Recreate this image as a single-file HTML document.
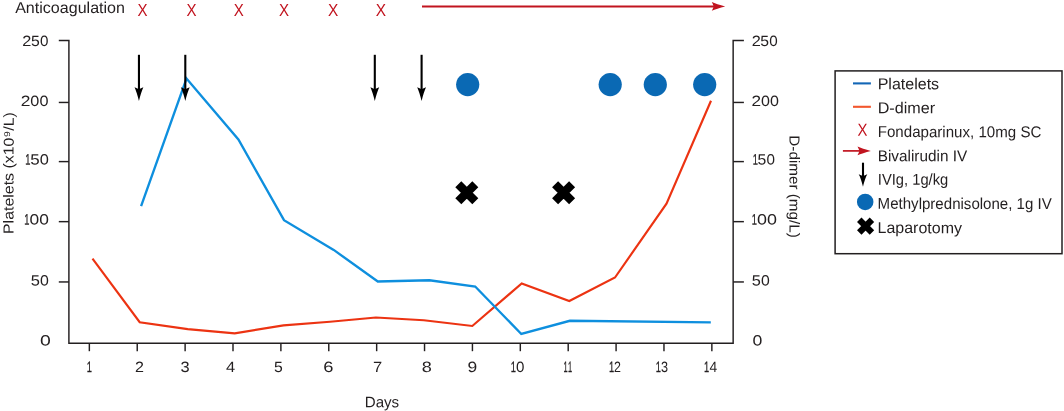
<!DOCTYPE html>
<html><head><meta charset="utf-8"><title>Chart</title>
<style>html,body{margin:0;padding:0;background:#fff}svg{display:block}</style></head>
<body><svg width="1064" height="411" viewBox="0 0 1064 411">
<rect x="0" y="0" width="1064" height="411" fill="#fff"/>
<g fill="none" stroke="#231f20" stroke-width="1.45" stroke-linecap="butt" stroke-linejoin="miter">
<path d="M58.8,40.45 H68.9 V343.2 H733.15 V40.45 H743.9"/>
<path d="M58.8,102.45 H68.9"/>
<path d="M733.15,102.45 H743.9"/>
<path d="M58.8,161.6 H68.9"/>
<path d="M733.15,161.6 H743.9"/>
<path d="M58.8,221.65 H68.9"/>
<path d="M733.15,221.65 H743.9"/>
<path d="M58.8,281.95 H68.9"/>
<path d="M733.15,281.95 H743.9"/>
<path d="M89.35,343.2 V351.2"/>
<path d="M137.23,343.2 V351.2"/>
<path d="M185.12,343.2 V351.2"/>
<path d="M233.00,343.2 V351.2"/>
<path d="M280.89,343.2 V351.2"/>
<path d="M328.77,343.2 V351.2"/>
<path d="M376.66,343.2 V351.2"/>
<path d="M424.54,343.2 V351.2"/>
<path d="M472.43,343.2 V351.2"/>
<path d="M520.31,343.2 V351.2"/>
<path d="M568.20,343.2 V351.2"/>
<path d="M616.09,343.2 V351.2"/>
<path d="M663.97,343.2 V351.2"/>
<path d="M711.86,343.2 V351.2"/>
</g>
<polyline points="92.5,258.7 139.7,322.2 187.7,329.1 234.7,333.3 283.5,325.4 330.0,321.8 375.9,317.5 423.8,320.3 472.3,326.0 521.7,283.4 569.3,301.0 615.0,277.5 666.5,203.7 711.0,100.8" fill="none" stroke="#ec3312" stroke-width="2.15" stroke-linejoin="miter"/>
<polyline points="141.1,206.2 186.5,78.5 238.4,139.4 284.0,220.2 333.7,249.9 377.8,281.5 429.4,280.3 475.2,286.5 521.3,334.0 569.9,320.8 710.8,322.3" fill="none" stroke="#0e8fde" stroke-width="2.35" stroke-linejoin="miter"/>
<path d="M138.95,54.8 V90.3" stroke="#000" stroke-width="2.1" fill="none"/><path d="M138.95,101.0 C137.64999999999998,95.5 135.95,90.5 134.54999999999998,87.3 Q136.95,88.5 138.95,89.2 Q140.95,88.5 143.35,87.3 C141.95,90.5 140.25,95.5 138.95,101.0 Z" fill="#000"/>
<path d="M185.3,54.8 V90.3" stroke="#000" stroke-width="2.1" fill="none"/><path d="M185.3,101.0 C184.0,95.5 182.3,90.5 180.9,87.3 Q183.3,88.5 185.3,89.2 Q187.3,88.5 189.70000000000002,87.3 C188.3,90.5 186.60000000000002,95.5 185.3,101.0 Z" fill="#000"/>
<path d="M374.8,54.8 V90.3" stroke="#000" stroke-width="2.1" fill="none"/><path d="M374.8,101.0 C373.5,95.5 371.8,90.5 370.40000000000003,87.3 Q372.8,88.5 374.8,89.2 Q376.8,88.5 379.2,87.3 C377.8,90.5 376.1,95.5 374.8,101.0 Z" fill="#000"/>
<path d="M421.6,54.8 V90.3" stroke="#000" stroke-width="2.1" fill="none"/><path d="M421.6,101.0 C420.3,95.5 418.6,90.5 417.20000000000005,87.3 Q419.6,88.5 421.6,89.2 Q423.6,88.5 426.0,87.3 C424.6,90.5 422.90000000000003,95.5 421.6,101.0 Z" fill="#000"/>
<path d="M422.0,6.4 H714.8000000000001" stroke="#c1141f" stroke-width="2.0" fill="none"/><path d="M725.2,6.4 C719.7,5.1000000000000005 714.7,3.4000000000000004 711.8000000000001,2.1000000000000005 Q713.0000000000001,4.4 713.7,6.4 Q713.0000000000001,8.4 711.8000000000001,10.7 C714.7,9.4 719.7,7.7 725.2,6.4 Z" fill="#c1141f"/>
<circle cx="467.7" cy="84.6" r="11.6" fill="#0a69b4"/>
<circle cx="610.2" cy="84.6" r="11.6" fill="#0a69b4"/>
<circle cx="655.3" cy="84.6" r="11.6" fill="#0a69b4"/>
<circle cx="704.7" cy="84.6" r="11.6" fill="#0a69b4"/>
<path d="M458.3,184.2 L475.3,201.2 M475.3,184.2 L458.3,201.2" stroke="#000" stroke-width="8.5" stroke-linecap="butt" fill="none"/>
<path d="M555.1,184.2 L572.1,201.2 M572.1,184.2 L555.1,201.2" stroke="#000" stroke-width="8.5" stroke-linecap="butt" fill="none"/>
<rect x="835.1" y="70.9" width="226.9" height="182.8" fill="none" stroke="#231f20" stroke-width="1.5"/>
<path d="M853,83.4 H870.9" stroke="#1266b6" stroke-width="2.1"/>
<path d="M853,106.8 H870.9" stroke="#f2572e" stroke-width="2.1"/>
<path d="M842.9,150.9 H860.5" stroke="#c1141f" stroke-width="1.7" fill="none"/><path d="M870.9,150.9 C865.4,149.6 860.4,147.9 857.5,146.6 Q858.7,148.9 859.4,150.9 Q858.7,152.9 857.5,155.20000000000002 C860.4,153.9 865.4,152.20000000000002 870.9,150.9 Z" fill="#c1141f"/>
<path d="M863.0,162.7 V177.2" stroke="#000" stroke-width="2.1" fill="none"/><path d="M863.0,186.7 C861.7,181.2 860.0,176.2 858.7,174.2 Q861.0,175.39999999999998 863.0,176.1 Q865.0,175.39999999999998 867.3,174.2 C866.0,176.2 864.3,181.2 863.0,186.7 Z" fill="#000"/>
<circle cx="865.2" cy="201.9" r="8.25" fill="#0a69b4"/>
<path d="M859.25,219.85 L871.95,232.54999999999998 M871.95,219.85 L859.25,232.54999999999998" stroke="#000" stroke-width="6.3" stroke-linecap="butt" fill="none"/>
<text transform="rotate(0.05 15.15 12.90)" x="15.15" y="12.90" font-family='"Liberation Sans", sans-serif' font-size="15.8" fill="#231f20" text-rendering="geometricPrecision" textLength="109.85" lengthAdjust="spacingAndGlyphs">Anticoagulation</text>
<text transform="rotate(0.05 22.38 46.10)" y="46.10" font-family='"Liberation Sans", sans-serif' font-size="14.9" fill="#231f20" text-rendering="geometricPrecision"><tspan x="22.38" textLength="9.10" lengthAdjust="spacingAndGlyphs">2</tspan><tspan x="31.06" textLength="8.77" lengthAdjust="spacingAndGlyphs">5</tspan><tspan x="39.99" textLength="8.47" lengthAdjust="spacingAndGlyphs">0</tspan></text>
<text transform="rotate(0.05 20.82 106.10)" y="106.10" font-family='"Liberation Sans", sans-serif' font-size="14.9" fill="#231f20" text-rendering="geometricPrecision"><tspan x="20.82" textLength="9.71" lengthAdjust="spacingAndGlyphs">2</tspan><tspan x="30.31" textLength="9.04" lengthAdjust="spacingAndGlyphs">0</tspan><tspan x="39.46" textLength="9.04" lengthAdjust="spacingAndGlyphs">0</tspan></text>
<text transform="rotate(0.05 25.37 164.60)" y="164.60" font-family='"Liberation Sans", sans-serif' font-size="14.9" fill="#231f20" text-rendering="geometricPrecision"><tspan x="25.37" textLength="5.18" lengthAdjust="spacingAndGlyphs" stroke="#231f20" stroke-width="0.3">1</tspan><tspan x="30.20" textLength="9.42" lengthAdjust="spacingAndGlyphs">5</tspan><tspan x="39.70" textLength="9.10" lengthAdjust="spacingAndGlyphs">0</tspan></text>
<text transform="rotate(0.05 24.37 224.60)" y="224.60" font-family='"Liberation Sans", sans-serif' font-size="14.9" fill="#231f20" text-rendering="geometricPrecision"><tspan x="24.37" textLength="5.18" lengthAdjust="spacingAndGlyphs" stroke="#231f20" stroke-width="0.3">1</tspan><tspan x="29.47" textLength="9.67" lengthAdjust="spacingAndGlyphs">0</tspan><tspan x="39.17" textLength="9.67" lengthAdjust="spacingAndGlyphs">0</tspan></text>
<text transform="rotate(0.05 30.87 285.50)" y="285.50" font-family='"Liberation Sans", sans-serif' font-size="14.9" fill="#231f20" text-rendering="geometricPrecision"><tspan x="30.87" textLength="9.16" lengthAdjust="spacingAndGlyphs">5</tspan><tspan x="40.14" textLength="8.84" lengthAdjust="spacingAndGlyphs">0</tspan></text>
<text transform="rotate(0.05 40.12 345.60)" x="40.12" y="345.60" font-family='"Liberation Sans", sans-serif' font-size="14.9" fill="#231f20" text-rendering="geometricPrecision" textLength="10.79" lengthAdjust="spacingAndGlyphs">0</text>
<text transform="rotate(0.05 751.68 46.10)" y="46.10" font-family='"Liberation Sans", sans-serif' font-size="14.9" fill="#231f20" text-rendering="geometricPrecision"><tspan x="751.68" textLength="9.10" lengthAdjust="spacingAndGlyphs">2</tspan><tspan x="760.36" textLength="8.77" lengthAdjust="spacingAndGlyphs">5</tspan><tspan x="769.29" textLength="8.47" lengthAdjust="spacingAndGlyphs">0</tspan></text>
<text transform="rotate(0.05 751.63 106.10)" y="106.10" font-family='"Liberation Sans", sans-serif' font-size="14.9" fill="#231f20" text-rendering="geometricPrecision"><tspan x="751.63" textLength="9.59" lengthAdjust="spacingAndGlyphs">2</tspan><tspan x="761.01" textLength="8.93" lengthAdjust="spacingAndGlyphs">0</tspan><tspan x="770.06" textLength="8.93" lengthAdjust="spacingAndGlyphs">0</tspan></text>
<text transform="rotate(0.05 752.67 164.60)" y="164.60" font-family='"Liberation Sans", sans-serif' font-size="14.9" fill="#231f20" text-rendering="geometricPrecision"><tspan x="752.67" textLength="5.18" lengthAdjust="spacingAndGlyphs" stroke="#231f20" stroke-width="0.3">1</tspan><tspan x="757.56" textLength="8.77" lengthAdjust="spacingAndGlyphs">5</tspan><tspan x="766.49" textLength="8.47" lengthAdjust="spacingAndGlyphs">0</tspan></text>
<text transform="rotate(0.05 751.87 224.60)" y="224.60" font-family='"Liberation Sans", sans-serif' font-size="14.9" fill="#231f20" text-rendering="geometricPrecision"><tspan x="751.87" textLength="5.18" lengthAdjust="spacingAndGlyphs" stroke="#231f20" stroke-width="0.3">1</tspan><tspan x="756.95" textLength="9.96" lengthAdjust="spacingAndGlyphs">0</tspan><tspan x="766.90" textLength="9.96" lengthAdjust="spacingAndGlyphs">0</tspan></text>
<text transform="rotate(0.05 751.68 285.50)" y="285.50" font-family='"Liberation Sans", sans-serif' font-size="14.9" fill="#231f20" text-rendering="geometricPrecision"><tspan x="751.68" textLength="9.10" lengthAdjust="spacingAndGlyphs">5</tspan><tspan x="760.90" textLength="8.78" lengthAdjust="spacingAndGlyphs">0</tspan></text>
<text transform="rotate(0.05 752.41 345.60)" x="752.41" y="345.60" font-family='"Liberation Sans", sans-serif' font-size="14.9" fill="#231f20" text-rendering="geometricPrecision" textLength="9.84" lengthAdjust="spacingAndGlyphs">0</text>
<text transform="rotate(0.05 86.87 372.00)" y="372.00" font-family='"Liberation Sans", sans-serif' font-size="14.9" fill="#231f20" text-rendering="geometricPrecision"><tspan x="86.87" textLength="5.18" lengthAdjust="spacingAndGlyphs" stroke="#231f20" stroke-width="0.3">1</tspan></text>
<text transform="rotate(0.05 135.04 372.00)" x="135.04" y="372.00" font-family='"Liberation Sans", sans-serif' font-size="14.9" fill="#231f20" text-rendering="geometricPrecision" textLength="8.97" lengthAdjust="spacingAndGlyphs">2</text>
<text transform="rotate(0.05 180.53 372.00)" x="180.53" y="372.00" font-family='"Liberation Sans", sans-serif' font-size="14.9" fill="#231f20" text-rendering="geometricPrecision" textLength="9.13" lengthAdjust="spacingAndGlyphs">3</text>
<text transform="rotate(0.05 226.01 372.00)" x="226.01" y="372.00" font-family='"Liberation Sans", sans-serif' font-size="14.9" fill="#231f20" text-rendering="geometricPrecision" textLength="9.18" lengthAdjust="spacingAndGlyphs">4</text>
<text transform="rotate(0.05 274.06 372.00)" x="274.06" y="372.00" font-family='"Liberation Sans", sans-serif' font-size="14.9" fill="#231f20" text-rendering="geometricPrecision" textLength="8.77" lengthAdjust="spacingAndGlyphs">5</text>
<text transform="rotate(0.05 323.35 372.00)" x="323.35" y="372.00" font-family='"Liberation Sans", sans-serif' font-size="14.9" fill="#231f20" text-rendering="geometricPrecision" textLength="10.20" lengthAdjust="spacingAndGlyphs">6</text>
<text transform="rotate(0.05 373.02 372.00)" x="373.02" y="372.00" font-family='"Liberation Sans", sans-serif' font-size="14.9" fill="#231f20" text-rendering="geometricPrecision" textLength="9.22" lengthAdjust="spacingAndGlyphs">7</text>
<text transform="rotate(0.05 421.67 372.00)" x="421.67" y="372.00" font-family='"Liberation Sans", sans-serif' font-size="14.9" fill="#231f20" text-rendering="geometricPrecision" textLength="10.07" lengthAdjust="spacingAndGlyphs">8</text>
<text transform="rotate(0.05 467.62 372.00)" x="467.62" y="372.00" font-family='"Liberation Sans", sans-serif' font-size="14.9" fill="#231f20" text-rendering="geometricPrecision" textLength="9.71" lengthAdjust="spacingAndGlyphs">9</text>
<text transform="rotate(0.05 510.77 372.00)" y="372.00" font-family='"Liberation Sans", sans-serif' font-size="14.9" fill="#231f20" text-rendering="geometricPrecision"><tspan x="510.77" textLength="5.18" lengthAdjust="spacingAndGlyphs" stroke="#231f20" stroke-width="0.3">1</tspan><tspan x="515.94" textLength="8.41" lengthAdjust="spacingAndGlyphs">0</tspan></text>
<text transform="rotate(0.05 563.62 372.00)" y="372.00" font-family='"Liberation Sans", sans-serif' font-size="14.9" fill="#231f20" text-rendering="geometricPrecision"><tspan x="563.62" textLength="4.15" lengthAdjust="spacingAndGlyphs" stroke="#231f20" stroke-width="0.3">1</tspan><tspan x="567.90" textLength="4.15" lengthAdjust="spacingAndGlyphs" stroke="#231f20" stroke-width="0.3">1</tspan></text>
<text transform="rotate(0.05 608.97 372.00)" y="372.00" font-family='"Liberation Sans", sans-serif' font-size="14.9" fill="#231f20" text-rendering="geometricPrecision"><tspan x="608.97" textLength="5.18" lengthAdjust="spacingAndGlyphs" stroke="#231f20" stroke-width="0.3">1</tspan><tspan x="614.02" textLength="6.94" lengthAdjust="spacingAndGlyphs">2</tspan></text>
<text transform="rotate(0.05 655.87 372.00)" y="372.00" font-family='"Liberation Sans", sans-serif' font-size="14.9" fill="#231f20" text-rendering="geometricPrecision"><tspan x="655.87" textLength="5.18" lengthAdjust="spacingAndGlyphs" stroke="#231f20" stroke-width="0.3">1</tspan><tspan x="661.12" textLength="7.05" lengthAdjust="spacingAndGlyphs">3</tspan></text>
<text transform="rotate(0.05 704.07 372.00)" y="372.00" font-family='"Liberation Sans", sans-serif' font-size="14.9" fill="#231f20" text-rendering="geometricPrecision"><tspan x="704.07" textLength="5.18" lengthAdjust="spacingAndGlyphs" stroke="#231f20" stroke-width="0.3">1</tspan><tspan x="709.52" textLength="7.69" lengthAdjust="spacingAndGlyphs">4</tspan></text>
<text transform="rotate(0.05 364.72 407.35)" x="364.72" y="407.35" font-family='"Liberation Sans", sans-serif' font-size="15.3" fill="#231f20" text-rendering="geometricPrecision" textLength="34.44" lengthAdjust="spacingAndGlyphs">Days</text>
<text transform="translate(13.55,234.02) rotate(-89.95)" x="0" y="0" font-family='"Liberation Sans", sans-serif' font-size="14.5" fill="#231f20" text-rendering="geometricPrecision" textLength="121.85" lengthAdjust="spacingAndGlyphs">Platelets (x10⁹/L)</text>
<text transform="translate(789.50,135.33) rotate(90.05)" x="0" y="0" font-family='"Liberation Sans", sans-serif' font-size="14.5" fill="#231f20" text-rendering="geometricPrecision" textLength="102.45" lengthAdjust="spacingAndGlyphs">D-dimer (mg/L)</text>
<text transform="rotate(0.05 877.68 89.28)" x="877.68" y="89.28" font-family='"Liberation Sans", sans-serif' font-size="15.8" fill="#231f20" text-rendering="geometricPrecision" textLength="61.47" lengthAdjust="spacingAndGlyphs">Platelets</text>
<text transform="rotate(0.05 877.67 113.25)" x="877.67" y="113.25" font-family='"Liberation Sans", sans-serif' font-size="15.8" fill="#231f20" text-rendering="geometricPrecision" textLength="57.41" lengthAdjust="spacingAndGlyphs">D-dimer</text>
<text transform="rotate(0.05 877.76 137.10)" x="877.76" y="137.10" font-family='"Liberation Sans", sans-serif' font-size="15.8" fill="#231f20" text-rendering="geometricPrecision" textLength="163.60" lengthAdjust="spacingAndGlyphs">Fondaparinux, 10mg SC</text>
<text transform="rotate(0.05 877.74 161.19)" x="877.74" y="161.19" font-family='"Liberation Sans", sans-serif' font-size="15.8" fill="#231f20" text-rendering="geometricPrecision" textLength="89.45" lengthAdjust="spacingAndGlyphs">Bivalirudin IV</text>
<text transform="rotate(0.05 877.79 184.70)" x="877.79" y="184.70" font-family='"Liberation Sans", sans-serif' font-size="15.8" fill="#231f20" text-rendering="geometricPrecision" textLength="70.46" lengthAdjust="spacingAndGlyphs">IVIg, 1g/kg</text>
<text transform="rotate(0.05 877.61 208.85)" x="877.61" y="208.85" font-family='"Liberation Sans", sans-serif' font-size="15.8" fill="#231f20" text-rendering="geometricPrecision" textLength="174.18" lengthAdjust="spacingAndGlyphs">Methylprednisolone, 1g IV</text>
<text transform="rotate(0.05 877.53 233.10)" x="877.53" y="233.10" font-family='"Liberation Sans", sans-serif' font-size="15.8" fill="#231f20" text-rendering="geometricPrecision" textLength="84.44" lengthAdjust="spacingAndGlyphs">Laparotomy</text>
<text transform="rotate(0.05 137.41 16.10)" x="137.41" y="16.10" font-family='"Liberation Sans", sans-serif' font-size="17.6" fill="#c1141f" text-rendering="geometricPrecision" textLength="10.06" lengthAdjust="spacingAndGlyphs">X</text>
<text transform="rotate(0.05 186.41 16.10)" x="186.41" y="16.10" font-family='"Liberation Sans", sans-serif' font-size="17.6" fill="#c1141f" text-rendering="geometricPrecision" textLength="10.06" lengthAdjust="spacingAndGlyphs">X</text>
<text transform="rotate(0.05 233.73 16.10)" x="233.73" y="16.10" font-family='"Liberation Sans", sans-serif' font-size="17.6" fill="#c1141f" text-rendering="geometricPrecision" textLength="10.06" lengthAdjust="spacingAndGlyphs">X</text>
<text transform="rotate(0.05 278.91 16.10)" x="278.91" y="16.10" font-family='"Liberation Sans", sans-serif' font-size="17.6" fill="#c1141f" text-rendering="geometricPrecision" textLength="10.06" lengthAdjust="spacingAndGlyphs">X</text>
<text transform="rotate(0.05 328.03 16.10)" x="328.03" y="16.10" font-family='"Liberation Sans", sans-serif' font-size="17.6" fill="#c1141f" text-rendering="geometricPrecision" textLength="10.30" lengthAdjust="spacingAndGlyphs">X</text>
<text transform="rotate(0.05 375.87 16.10)" x="375.87" y="16.10" font-family='"Liberation Sans", sans-serif' font-size="17.6" fill="#c1141f" text-rendering="geometricPrecision" textLength="10.30" lengthAdjust="spacingAndGlyphs">X</text>
<text transform="rotate(0.05 857.42 135.80)" x="857.42" y="135.80" font-family='"Liberation Sans", sans-serif' font-size="17.6" fill="#c1141f" text-rendering="geometricPrecision" textLength="9.95" lengthAdjust="spacingAndGlyphs">X</text>
</svg></body></html>
